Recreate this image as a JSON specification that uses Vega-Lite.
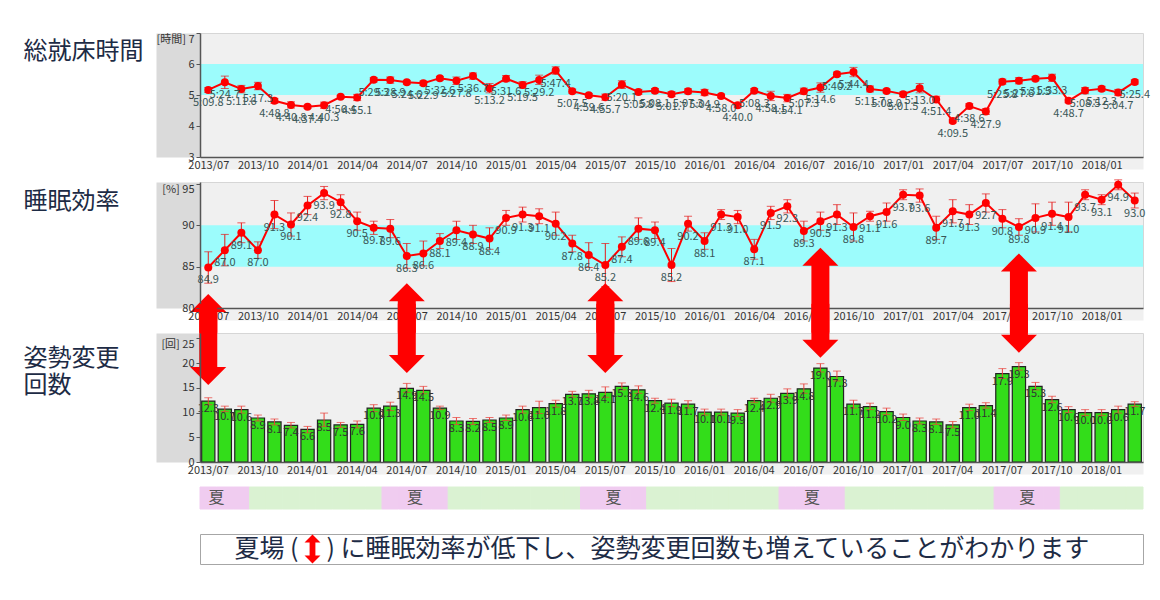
{
  "$schema": "https://vega.github.io/schema/vega-lite/v6.json",
  "background": "white",
  "padding": {"left": 22, "top": 32, "right": 4, "bottom": 4},
  "bounds": "flush",
  "spacing": 25,
  "config": {
    "font": "Noto Sans CJK JP",
    "view": {"stroke": null},
    "axis": {"labelFontSize": 11, "labelColor": "#333333", "grid": false}
  },
  "resolve": {"scale": {"x": "independent", "y": "independent", "color": "independent"}},
  "datasets": {
    "monthly": [
      {"month": "2013/07", "bed": 5.163, "bedLabel": "5:09.8", "bedLo": 5.08, "bedHi": 5.24, "eff": 84.9, "effLo": 83.0, "effHi": 86.8, "cnt": 12.3, "cntLo": 11.6, "cntHi": 13.0, "season": "summer"},
      {"month": "2013/08", "bed": 5.412, "bedLabel": "5:24.7", "bedLo": 5.21, "bedHi": 5.61, "eff": 87.0, "effLo": 85.1, "effHi": 88.9, "cnt": 10.7, "cntLo": 10.2, "cntHi": 11.3, "season": "summer"},
      {"month": "2013/09", "bed": 5.193, "bedLabel": "5:11.6", "bedLo": 5.07, "bedHi": 5.31, "eff": 89.1, "effLo": 87.9, "effHi": 90.3, "cnt": 10.6, "cntLo": 9.9, "cntHi": 11.3, "season": "summer"},
      {"month": "2013/10", "bed": 5.288, "bedLabel": "5:17.3", "bedLo": 5.17, "bedHi": 5.41, "eff": 87.0, "effLo": 86.0, "effHi": 88.0, "cnt": 8.9, "cntLo": 8.3, "cntHi": 9.5, "season": "other"},
      {"month": "2013/11", "bed": 4.813, "bedLabel": "4:48.8", "bedLo": 4.73, "bedHi": 4.89, "eff": 91.3, "effLo": 89.6, "effHi": 93.0, "cnt": 8.1, "cntLo": 7.5, "cntHi": 8.7, "season": "other"},
      {"month": "2013/12", "bed": 4.68, "bedLabel": "4:40.8", "bedLo": 4.58, "bedHi": 4.78, "eff": 90.1, "effLo": 88.7, "effHi": 91.5, "cnt": 7.4, "cntLo": 6.9, "cntHi": 8.0, "season": "other"},
      {"month": "2014/01", "bed": 4.623, "bedLabel": "4:37.4", "bedLo": 4.57, "bedHi": 4.67, "eff": 92.4, "effLo": 91.3, "effHi": 93.5, "cnt": 6.6, "cntLo": 5.9, "cntHi": 7.2, "season": "other"},
      {"month": "2014/02", "bed": 4.672, "bedLabel": "4:40.3", "bedLo": 4.57, "bedHi": 4.77, "eff": 93.9, "effLo": 93.1, "effHi": 94.7, "cnt": 8.5, "cntLo": 7.2, "cntHi": 9.9, "season": "other"},
      {"month": "2014/03", "bed": 4.94, "bedLabel": "4:56.4", "bedLo": 4.89, "bedHi": 4.99, "eff": 92.8, "effLo": 91.9, "effHi": 93.7, "cnt": 7.5, "cntLo": 7.0, "cntHi": 8.0, "season": "other"},
      {"month": "2014/04", "bed": 4.918, "bedLabel": "4:55.1", "bedLo": 4.82, "bedHi": 5.02, "eff": 90.5, "effLo": 89.4, "effHi": 91.6, "cnt": 7.6, "cntLo": 6.9, "cntHi": 8.3, "season": "other"},
      {"month": "2014/05", "bed": 5.488, "bedLabel": "5:29.3", "bedLo": 5.42, "bedHi": 5.56, "eff": 89.7, "effLo": 88.9, "effHi": 90.5, "cnt": 10.9, "cntLo": 10.2, "cntHi": 11.6, "season": "other"},
      {"month": "2014/06", "bed": 5.482, "bedLabel": "5:28.9", "bedLo": 5.38, "bedHi": 5.58, "eff": 89.6, "effLo": 88.5, "effHi": 90.7, "cnt": 11.3, "cntLo": 10.4, "cntHi": 12.1, "season": "summer"},
      {"month": "2014/07", "bed": 5.41, "bedLabel": "5:24.6", "bedLo": 5.35, "bedHi": 5.47, "eff": 86.3, "effLo": 84.8, "effHi": 87.8, "cnt": 14.9, "cntLo": 14.1, "cntHi": 15.9, "season": "summer"},
      {"month": "2014/08", "bed": 5.382, "bedLabel": "5:22.9", "bedLo": 5.31, "bedHi": 5.45, "eff": 86.6, "effLo": 85.1, "effHi": 88.1, "cnt": 14.5, "cntLo": 13.8, "cntHi": 15.3, "season": "summer"},
      {"month": "2014/09", "bed": 5.543, "bedLabel": "5:32.6", "bedLo": 5.48, "bedHi": 5.60, "eff": 88.1, "effLo": 87.2, "effHi": 89.0, "cnt": 10.9, "cntLo": 10.6, "cntHi": 11.3, "season": "summer"},
      {"month": "2014/10", "bed": 5.463, "bedLabel": "5:27.8", "bedLo": 5.34, "bedHi": 5.58, "eff": 89.4, "effLo": 88.3, "effHi": 90.5, "cnt": 8.3, "cntLo": 7.6, "cntHi": 9.0, "season": "other"},
      {"month": "2014/11", "bed": 5.612, "bedLabel": "5:36.7", "bedLo": 5.51, "bedHi": 5.71, "eff": 88.9, "effLo": 87.8, "effHi": 90.0, "cnt": 8.2, "cntLo": 7.6, "cntHi": 8.8, "season": "other"},
      {"month": "2014/12", "bed": 5.22, "bedLabel": "5:13.2", "bedLo": 5.07, "bedHi": 5.37, "eff": 88.4, "effLo": 87.1, "effHi": 89.7, "cnt": 8.5, "cntLo": 8.0, "cntHi": 9.0, "season": "other"},
      {"month": "2015/01", "bed": 5.527, "bedLabel": "5:31.6", "bedLo": 5.43, "bedHi": 5.63, "eff": 90.9, "effLo": 90.0, "effHi": 91.8, "cnt": 8.9, "cntLo": 8.4, "cntHi": 9.5, "season": "other"},
      {"month": "2015/02", "bed": 5.325, "bedLabel": "5:19.5", "bedLo": 5.22, "bedHi": 5.43, "eff": 91.3, "effLo": 90.4, "effHi": 92.2, "cnt": 10.6, "cntLo": 9.9, "cntHi": 11.3, "season": "other"},
      {"month": "2015/03", "bed": 5.487, "bedLabel": "5:29.2", "bedLo": 5.34, "bedHi": 5.64, "eff": 91.1, "effLo": 90.2, "effHi": 92.0, "cnt": 11.0, "cntLo": 9.8, "cntHi": 12.3, "season": "other"},
      {"month": "2015/04", "bed": 5.79, "bedLabel": "5:47.4", "bedLo": 5.67, "bedHi": 5.91, "eff": 90.2, "effLo": 88.8, "effHi": 91.6, "cnt": 11.8, "cntLo": 11.1, "cntHi": 12.5, "season": "other"},
      {"month": "2015/05", "bed": 5.125, "bedLabel": "5:07.5", "bedLo": 5.06, "bedHi": 5.19, "eff": 87.8, "effLo": 86.8, "effHi": 88.8, "cnt": 13.7, "cntLo": 13.1, "cntHi": 14.3, "season": "other"},
      {"month": "2015/06", "bed": 4.993, "bedLabel": "4:59.6", "bedLo": 4.93, "bedHi": 5.05, "eff": 86.4, "effLo": 84.9, "effHi": 87.9, "cnt": 13.8, "cntLo": 13.1, "cntHi": 14.5, "season": "summer"},
      {"month": "2015/07", "bed": 4.928, "bedLabel": "4:55.7", "bedLo": 4.83, "bedHi": 5.03, "eff": 85.2, "effLo": 82.6, "effHi": 87.8, "cnt": 14.1, "cntLo": 13.1, "cntHi": 15.2, "season": "summer"},
      {"month": "2015/08", "bed": 5.335, "bedLabel": "5:20.1", "bedLo": 5.21, "bedHi": 5.46, "eff": 87.4, "effLo": 86.2, "effHi": 88.6, "cnt": 15.3, "cntLo": 14.6, "cntHi": 16.0, "season": "summer"},
      {"month": "2015/09", "bed": 5.097, "bedLabel": "5:05.8", "bedLo": 5.02, "bedHi": 5.18, "eff": 89.6, "effLo": 88.3, "effHi": 90.9, "cnt": 14.6, "cntLo": 13.9, "cntHi": 15.4, "season": "summer"},
      {"month": "2015/10", "bed": 5.135, "bedLabel": "5:08.1", "bedLo": 5.07, "bedHi": 5.21, "eff": 89.4, "effLo": 88.4, "effHi": 90.4, "cnt": 12.4, "cntLo": 11.9, "cntHi": 12.9, "season": "other"},
      {"month": "2015/11", "bed": 5.028, "bedLabel": "5:01.7", "bedLo": 4.95, "bedHi": 5.11, "eff": 85.2, "effLo": 83.2, "effHi": 87.2, "cnt": 11.9, "cntLo": 11.2, "cntHi": 12.7, "season": "other"},
      {"month": "2015/12", "bed": 5.122, "bedLabel": "5:07.3", "bedLo": 5.04, "bedHi": 5.20, "eff": 90.2, "effLo": 89.3, "effHi": 91.1, "cnt": 11.7, "cntLo": 10.9, "cntHi": 12.4, "season": "other"},
      {"month": "2016/01", "bed": 5.082, "bedLabel": "5:04.9", "bedLo": 4.98, "bedHi": 5.18, "eff": 88.1, "effLo": 87.1, "effHi": 89.1, "cnt": 10.1, "cntLo": 9.5, "cntHi": 10.7, "season": "other"},
      {"month": "2016/02", "bed": 4.967, "bedLabel": "4:58.0", "bedLo": 4.91, "bedHi": 5.03, "eff": 91.3, "effLo": 90.7, "effHi": 91.9, "cnt": 10.1, "cntLo": 9.5, "cntHi": 10.7, "season": "other"},
      {"month": "2016/03", "bed": 4.667, "bedLabel": "4:40.0", "bedLo": 4.59, "bedHi": 4.75, "eff": 91.0, "effLo": 90.2, "effHi": 91.8, "cnt": 9.9, "cntLo": 9.2, "cntHi": 10.6, "season": "other"},
      {"month": "2016/04", "bed": 5.138, "bedLabel": "5:08.3", "bedLo": 5.07, "bedHi": 5.21, "eff": 87.1, "effLo": 85.9, "effHi": 88.3, "cnt": 12.4, "cntLo": 12.0, "cntHi": 12.9, "season": "other"},
      {"month": "2016/05", "bed": 4.968, "bedLabel": "4:58.1", "bedLo": 4.82, "bedHi": 5.12, "eff": 91.5, "effLo": 90.7, "effHi": 92.3, "cnt": 12.9, "cntLo": 12.1, "cntHi": 13.7, "season": "other"},
      {"month": "2016/06", "bed": 4.902, "bedLabel": "4:54.1", "bedLo": 4.78, "bedHi": 5.02, "eff": 92.3, "effLo": 91.5, "effHi": 93.1, "cnt": 13.9, "cntLo": 13.0, "cntHi": 14.8, "season": "summer"},
      {"month": "2016/07", "bed": 5.122, "bedLabel": "5:07.3", "bedLo": 5.02, "bedHi": 5.22, "eff": 89.3, "effLo": 88.1, "effHi": 90.5, "cnt": 14.8, "cntLo": 13.9, "cntHi": 15.8, "season": "summer"},
      {"month": "2016/08", "bed": 5.243, "bedLabel": "5:14.6", "bedLo": 5.09, "bedHi": 5.39, "eff": 90.5, "effLo": 89.4, "effHi": 91.6, "cnt": 19.0, "cntLo": 18.2, "cntHi": 19.9, "season": "summer"},
      {"month": "2016/09", "bed": 5.67, "bedLabel": "5:40.2", "bedLo": 5.60, "bedHi": 5.74, "eff": 91.3, "effLo": 90.1, "effHi": 92.5, "cnt": 17.3, "cntLo": 16.4, "cntHi": 18.4, "season": "summer"},
      {"month": "2016/10", "bed": 5.74, "bedLabel": "5:44.4", "bedLo": 5.59, "bedHi": 5.89, "eff": 89.8, "effLo": 88.1, "effHi": 91.5, "cnt": 11.7, "cntLo": 10.9, "cntHi": 12.5, "season": "other"},
      {"month": "2016/11", "bed": 5.195, "bedLabel": "5:11.7", "bedLo": 5.10, "bedHi": 5.29, "eff": 91.1, "effLo": 90.5, "effHi": 91.7, "cnt": 11.2, "cntLo": 10.6, "cntHi": 11.9, "season": "other"},
      {"month": "2016/12", "bed": 5.133, "bedLabel": "5:08.0", "bedLo": 5.07, "bedHi": 5.19, "eff": 91.6, "effLo": 90.5, "effHi": 92.7, "cnt": 10.2, "cntLo": 9.6, "cntHi": 10.9, "season": "other"},
      {"month": "2017/01", "bed": 5.025, "bedLabel": "5:01.5", "bedLo": 4.95, "bedHi": 5.10, "eff": 93.7, "effLo": 93.1, "effHi": 94.3, "cnt": 9.0, "cntLo": 8.4, "cntHi": 9.7, "season": "other"},
      {"month": "2017/02", "bed": 5.217, "bedLabel": "5:13.0", "bedLo": 5.07, "bedHi": 5.37, "eff": 93.6, "effLo": 92.8, "effHi": 94.4, "cnt": 8.3, "cntLo": 7.7, "cntHi": 8.9, "season": "other"},
      {"month": "2017/03", "bed": 4.857, "bedLabel": "4:51.4", "bedLo": 4.76, "bedHi": 4.96, "eff": 89.7, "effLo": 88.3, "effHi": 91.1, "cnt": 8.1, "cntLo": 7.6, "cntHi": 8.7, "season": "other"},
      {"month": "2017/04", "bed": 4.158, "bedLabel": "4:09.5", "bedLo": 4.10, "bedHi": 4.22, "eff": 91.7, "effLo": 90.3, "effHi": 93.1, "cnt": 7.5, "cntLo": 6.9, "cntHi": 8.2, "season": "other"},
      {"month": "2017/05", "bed": 4.643, "bedLabel": "4:38.6", "bedLo": 4.56, "bedHi": 4.72, "eff": 91.3, "effLo": 90.1, "effHi": 92.5, "cnt": 11.0, "cntLo": 10.4, "cntHi": 11.7, "season": "other"},
      {"month": "2017/06", "bed": 4.465, "bedLabel": "4:27.9", "bedLo": 4.37, "bedHi": 4.56, "eff": 92.7, "effLo": 91.6, "effHi": 93.8, "cnt": 11.4, "cntLo": 10.9, "cntHi": 12.0, "season": "other"},
      {"month": "2017/07", "bed": 5.43, "bedLabel": "5:25.8", "bedLo": 5.35, "bedHi": 5.51, "eff": 90.8, "effLo": 89.7, "effHi": 91.9, "cnt": 17.9, "cntLo": 16.9, "cntHi": 18.9, "season": "summer"},
      {"month": "2017/08", "bed": 5.46, "bedLabel": "5:27.6", "bedLo": 5.36, "bedHi": 5.56, "eff": 89.8, "effLo": 88.8, "effHi": 90.8, "cnt": 19.3, "cntLo": 18.6, "cntHi": 20.1, "season": "summer"},
      {"month": "2017/09", "bed": 5.525, "bedLabel": "5:31.5", "bedLo": 5.46, "bedHi": 5.59, "eff": 90.9, "effLo": 89.2, "effHi": 92.6, "cnt": 15.3, "cntLo": 14.6, "cntHi": 16.1, "season": "summer"},
      {"month": "2017/10", "bed": 5.555, "bedLabel": "5:33.3", "bedLo": 5.44, "bedHi": 5.67, "eff": 91.4, "effLo": 90.0, "effHi": 92.8, "cnt": 12.6, "cntLo": 12.0, "cntHi": 13.3, "season": "summer"},
      {"month": "2017/11", "bed": 4.812, "bedLabel": "4:48.7", "bedLo": 4.75, "bedHi": 4.87, "eff": 91.0, "effLo": 89.2, "effHi": 92.8, "cnt": 10.6, "cntLo": 10.0, "cntHi": 11.2, "season": "other"},
      {"month": "2017/12", "bed": 5.142, "bedLabel": "5:08.5", "bedLo": 5.04, "bedHi": 5.24, "eff": 93.7, "effLo": 93.1, "effHi": 94.3, "cnt": 10.0, "cntLo": 9.4, "cntHi": 10.6, "season": "other"},
      {"month": "2018/01", "bed": 5.205, "bedLabel": "5:12.3", "bedLo": 5.13, "bedHi": 5.28, "eff": 93.1, "effLo": 92.5, "effHi": 93.7, "cnt": 10.0, "cntLo": 9.4, "cntHi": 10.6, "season": "other"},
      {"month": "2018/02", "bed": 5.078, "bedLabel": "5:04.7", "bedLo": 4.98, "bedHi": 5.18, "eff": 94.9, "effLo": 94.3, "effHi": 95.5, "cnt": 10.6, "cntLo": 9.9, "cntHi": 11.3, "season": "other"},
      {"month": "2018/03", "bed": 5.423, "bedLabel": "5:25.4", "bedLo": 5.35, "bedHi": 5.49, "eff": 93.0, "effLo": 92.1, "effHi": 93.9, "cnt": 11.7, "cntLo": 11.2, "cntHi": 12.2, "season": "other"}
    ],
    "arrows": [
      {"month": "2013/07", "effTip": 81.7, "effBase": 79.7, "cntTip": 15.6, "cntBase": 19.1},
      {"month": "2014/07", "effTip": 83.0, "effBase": 81.0, "cntTip": 18.0, "cntBase": 21.5},
      {"month": "2015/07", "effTip": 83.0, "effBase": 81.0, "cntTip": 18.0, "cntBase": 21.5},
      {"month": "2016/08", "effTip": 87.3, "effBase": 85.3, "cntTip": 21.1, "cntBase": 24.6},
      {"month": "2017/08", "effTip": 86.6, "effBase": 84.6, "cntTip": 22.1, "cntBase": 25.6}
    ],
    "summerLabels": [
      {"month": "2013/07", "label": "夏"},
      {"month": "2014/07", "label": "夏"},
      {"month": "2015/07", "label": "夏"},
      {"month": "2016/07", "label": "夏"},
      {"month": "2017/08", "label": "夏"}
    ]
  },
  "vconcat": [
    {
      "width": 943,
      "height": 124,
      "view": {"fill": "#f0f0f0", "stroke": "#d6d6d6"},
      "resolve": {"axis": {"x": "independent", "y": "independent"}},
      "layer": [
        {
          "data": {"values": [{"lo": 5, "hi": 6}]},
          "mark": {"type": "rect", "color": "#9cfcfc"},
          "encoding": {
            "y": {"field": "lo", "type": "quantitative", "scale": {"domain": [3, 7], "nice": false, "zero": false},
              "axis": {"orient": "left", "offset": 22, "domainWidth": 44, "domainColor": "#dadada", "labels": false, "ticks": false, "title": null, "zindex": 0}},
            "y2": {"field": "hi"}
          }
        },
        {
          "data": {"name": "monthly"},
          "mark": {"type": "errorbar", "color": "#e41a1a", "ticks": {"size": 8}},
          "encoding": {
            "x": {"field": "month", "type": "ordinal", "scale": {"type": "point", "padding": 0.5},
              "axis": {"orient": "bottom", "offset": 6, "domainWidth": 12, "domainColor": "#f0f0f0", "labels": false, "ticks": false, "title": null, "zindex": 0}},
            "y": {"field": "bedLo", "type": "quantitative", "scale": {"domain": [3, 7], "nice": false, "zero": false}, "axis": null},
            "y2": {"field": "bedHi"}
          }
        },
        {
          "data": {"name": "monthly"},
          "mark": {"type": "line", "color": "#ff0000", "strokeWidth": 2, "point": {"filled": true, "size": 64, "color": "#ff0000", "opacity": 1}},
          "encoding": {
            "x": {"field": "month", "type": "ordinal", "scale": {"type": "point", "padding": 0.5},
              "axis": {"orient": "bottom", "values": ["2013/07","2013/10","2014/01","2014/04","2014/07","2014/10","2015/01","2015/04","2015/07","2015/10","2016/01","2016/04","2016/07","2016/10","2017/01","2017/04","2017/07","2017/10","2018/01"],
                "labelAngle": 0, "ticks": false, "domainColor": "#555555", "domainWidth": 1.5, "labelPadding": 2, "title": null, "zindex": 1}},
            "y": {"field": "bed", "type": "quantitative", "scale": {"domain": [3, 7], "nice": false, "zero": false},
              "axis": {"orient": "left", "values": [3, 4, 5, 6, 7], "labelExpr": "datum.value == 7 ? '[時間] 7' : datum.label",
                "labelBaseline": {"condition": {"test": "datum.value == 7", "value": "top"}, "value": "middle"},
                "domainColor": "#555555", "domainWidth": 1.5, "tickColor": "#555555", "tickSize": 4,
                "title": "総就床時間", "titleAngle": 0, "titleAlign": "left", "titleBaseline": "top", "titleX": -177, "titleY": 6,
                "titleFontSize": 24, "titleFontWeight": "normal", "titleColor": "#1d2b45", "zindex": 1}}
          }
        },
        {
          "data": {"name": "monthly"},
          "mark": {"type": "text", "dy": 13, "fontSize": 11, "color": "#3a5757"},
          "encoding": {
            "x": {"field": "month", "type": "ordinal", "scale": {"type": "point", "padding": 0.5}, "axis": null},
            "y": {"field": "bed", "type": "quantitative", "scale": {"domain": [3, 7], "nice": false, "zero": false}, "axis": null},
            "text": {"field": "bedLabel"}
          }
        }
      ]
    },
    {
      "width": 943,
      "height": 126,
      "view": {"fill": "#f0f0f0", "stroke": "#d6d6d6"},
      "resolve": {"axis": {"x": "independent", "y": "independent"}},
      "layer": [
        {
          "data": {"values": [{"lo": 85, "hi": 90}]},
          "mark": {"type": "rect", "color": "#9cfcfc"},
          "encoding": {
            "y": {"field": "lo", "type": "quantitative", "scale": {"domain": [80, 95.24], "nice": false, "zero": false},
              "axis": {"orient": "left", "offset": 22, "domainWidth": 44, "domainColor": "#dadada", "labels": false, "ticks": false, "title": null, "zindex": 0}},
            "y2": {"field": "hi"}
          }
        },
        {
          "data": {"name": "monthly"},
          "mark": {"type": "errorbar", "color": "#e41a1a", "ticks": {"size": 8}},
          "encoding": {
            "x": {"field": "month", "type": "ordinal", "scale": {"type": "point", "padding": 0.5},
              "axis": {"orient": "bottom", "offset": 6, "domainWidth": 12, "domainColor": "#f0f0f0", "labels": false, "ticks": false, "title": null, "zindex": 0}},
            "y": {"field": "effLo", "type": "quantitative", "scale": {"domain": [80, 95.24], "nice": false, "zero": false}, "axis": null},
            "y2": {"field": "effHi"}
          }
        },
        {
          "data": {"name": "monthly"},
          "mark": {"type": "line", "color": "#ff0000", "strokeWidth": 2, "point": {"filled": true, "size": 64, "color": "#ff0000", "opacity": 1}},
          "encoding": {
            "x": {"field": "month", "type": "ordinal", "scale": {"type": "point", "padding": 0.5},
              "axis": {"orient": "bottom", "values": ["2013/07","2013/10","2014/01","2014/04","2014/07","2014/10","2015/01","2015/04","2015/07","2015/10","2016/01","2016/04","2016/07","2016/10","2017/01","2017/04","2017/07","2017/10","2018/01"],
                "labelAngle": 0, "ticks": false, "domainColor": "#555555", "domainWidth": 1.5, "labelPadding": 2, "title": null, "zindex": 1}},
            "y": {"field": "eff", "type": "quantitative", "scale": {"domain": [80, 95.24], "nice": false, "zero": false},
              "axis": {"orient": "left", "values": [80, 85, 90, 95], "labelExpr": "datum.value == 95 ? '[%] 95' : datum.label",
                "labelBaseline": {"condition": {"test": "datum.value == 95", "value": "top"}, "value": "middle"},
                "domainColor": "#555555", "domainWidth": 1.5, "tickColor": "#555555", "tickSize": 4,
                "title": "睡眠効率", "titleAngle": 0, "titleAlign": "left", "titleBaseline": "top", "titleX": -177, "titleY": 7,
                "titleFontSize": 24, "titleFontWeight": "normal", "titleColor": "#1d2b45", "zindex": 1}}
          }
        },
        {
          "data": {"name": "monthly"},
          "mark": {"type": "text", "dy": 13, "fontSize": 11, "color": "#3a5757"},
          "encoding": {
            "x": {"field": "month", "type": "ordinal", "scale": {"type": "point", "padding": 0.5}, "axis": null},
            "y": {"field": "eff", "type": "quantitative", "scale": {"domain": [80, 95.24], "nice": false, "zero": false}, "axis": null},
            "text": {"field": "eff", "format": ".1f"}
          }
        },
        {
          "data": {"name": "arrows"},
          "mark": {"type": "rule", "color": "#ff0000", "strokeWidth": 18, "strokeCap": "butt"},
          "encoding": {
            "x": {"field": "month", "type": "ordinal", "scale": {"type": "point", "padding": 0.5}, "axis": null},
            "y": {"field": "effBase", "type": "quantitative", "scale": {"domain": [80, 95.24], "nice": false, "zero": false}, "axis": null},
            "y2": {"datum": 77}
          }
        },
        {
          "data": {"name": "arrows"},
          "mark": {"type": "point", "shape": "M0,0 L-1,1 L1,1 Z", "size": 1296, "filled": true, "color": "#ff0000", "opacity": 1},
          "encoding": {
            "x": {"field": "month", "type": "ordinal", "scale": {"type": "point", "padding": 0.5}, "axis": null},
            "y": {"field": "effTip", "type": "quantitative", "scale": {"domain": [80, 95.24], "nice": false, "zero": false}, "axis": null}
          }
        }
      ]
    },
    {
      "width": 943,
      "height": 129,
      "view": {"fill": "#f0f0f0", "stroke": "#d6d6d6"},
      "resolve": {"axis": {"x": "independent", "y": "independent"}},
      "layer": [
        {
          "data": {"name": "monthly"},
          "mark": {"type": "bar", "color": "#33dd1a", "stroke": "#222222", "strokeWidth": 1.2},
          "encoding": {
            "x": {"field": "month", "type": "ordinal", "scale": {"type": "band", "paddingInner": 0.2, "paddingOuter": 0.1},
              "axis": {"orient": "bottom", "values": ["2013/07","2013/10","2014/01","2014/04","2014/07","2014/10","2015/01","2015/04","2015/07","2015/10","2016/01","2016/04","2016/07","2016/10","2017/01","2017/04","2017/07","2017/10","2018/01"],
                "labelAngle": 0, "ticks": false, "domainColor": "#555555", "domainWidth": 1.5, "labelPadding": 2, "title": null, "zindex": 1}},
            "y": {"field": "cnt", "type": "quantitative", "scale": {"domain": [0, 26.1], "nice": false, "zero": false},
              "axis": {"orient": "left", "values": [0, 5, 10, 15, 20, 25], "labelExpr": "datum.value == 25 ? '[回] 25' : datum.label",
                "labelBaseline": {"condition": {"test": "datum.value == 25", "value": "top"}, "value": "middle"},
                "domainColor": "#555555", "domainWidth": 1.5, "tickColor": "#555555", "tickSize": 4,
                "title": ["姿勢変更", "回数"], "titleAngle": 0, "titleAlign": "left", "titleBaseline": "top", "titleX": -177, "titleY": 13, "titleLineHeight": 27,
                "titleFontSize": 24, "titleFontWeight": "normal", "titleColor": "#1d2b45", "zindex": 1}}
          }
        },
        {
          "data": {"name": "monthly"},
          "mark": {"type": "errorbar", "color": "#e8403a", "ticks": {"size": 8}},
          "encoding": {
            "x": {"field": "month", "type": "ordinal", "scale": {"type": "band", "paddingInner": 0.2, "paddingOuter": 0.1},
              "axis": {"orient": "bottom", "offset": 6, "domainWidth": 12, "domainColor": "#f0f0f0", "labels": false, "ticks": false, "title": null, "zindex": 0}},
            "y": {"field": "cntLo", "type": "quantitative", "scale": {"domain": [0, 26.1], "nice": false, "zero": false},
              "axis": {"orient": "left", "offset": 22, "domainWidth": 44, "domainColor": "#dadada", "labels": false, "ticks": false, "title": null, "zindex": 0}},
            "y2": {"field": "cntHi"}
          }
        },
        {
          "data": {"name": "monthly"},
          "mark": {"type": "text", "dy": 8, "fontSize": 11, "color": "#333333"},
          "encoding": {
            "x": {"field": "month", "type": "ordinal", "scale": {"type": "band", "paddingInner": 0.2, "paddingOuter": 0.1}, "axis": null},
            "y": {"field": "cnt", "type": "quantitative", "scale": {"domain": [0, 26.1], "nice": false, "zero": false}, "axis": null},
            "text": {"field": "cnt", "format": ".1f"}
          }
        },
        {
          "data": {"name": "arrows"},
          "mark": {"type": "rule", "color": "#ff0000", "strokeWidth": 18, "strokeCap": "butt"},
          "encoding": {
            "x": {"field": "month", "type": "ordinal", "bandPosition": 0.5, "scale": {"type": "band", "paddingInner": 0.2, "paddingOuter": 0.1}, "axis": null},
            "y": {"field": "cntBase", "type": "quantitative", "scale": {"domain": [0, 26.1], "nice": false, "zero": false}, "axis": null},
            "y2": {"datum": 32}
          }
        },
        {
          "data": {"name": "arrows"},
          "mark": {"type": "point", "shape": "M0,0 L-1,-1 L1,-1 Z", "size": 1296, "filled": true, "color": "#ff0000", "opacity": 1},
          "encoding": {
            "x": {"field": "month", "type": "ordinal", "bandPosition": 0.5, "scale": {"type": "band", "paddingInner": 0.2, "paddingOuter": 0.1}, "axis": null},
            "y": {"field": "cntTip", "type": "quantitative", "scale": {"domain": [0, 26.1], "nice": false, "zero": false}, "axis": null}
          }
        }
      ]
    },
    {
      "width": 943,
      "height": 22,
      "view": {"stroke": null},
      "layer": [
        {
          "data": {"name": "monthly"},
          "mark": {"type": "rect", "strokeWidth": 1},
          "encoding": {
            "x": {"field": "month", "type": "ordinal", "scale": {"type": "band", "paddingInner": 0, "paddingOuter": 0}, "axis": null},
            "color": {"field": "season", "type": "nominal", "scale": {"domain": ["summer", "other"], "range": ["#f0ccf0", "#daf2d2"]}, "legend": null},
            "stroke": {"field": "season", "type": "nominal", "scale": {"domain": ["summer", "other"], "range": ["#f0ccf0", "#daf2d2"]}, "legend": null}
          }
        },
        {
          "data": {"name": "summerLabels"},
          "mark": {"type": "text", "fontSize": 16, "color": "#555555"},
          "encoding": {
            "x": {"field": "month", "type": "ordinal", "bandPosition": 1, "scale": {"type": "band", "paddingInner": 0, "paddingOuter": 0}, "axis": null},
            "text": {"field": "label"}
          }
        }
      ]
    },
    {
      "width": 943,
      "height": 30,
      "view": {"stroke": "#a6a6a6", "strokeWidth": 1, "fill": "white"},
      "data": {"values": [{"month": "2014/01", "before": "夏場 (", "after": ") に睡眠効率が低下し、姿勢変更回数も増えていることがわかります"}]},
      "encoding": {
        "x": {"field": "month", "type": "ordinal", "bandPosition": 0.8,
          "scale": {"type": "band", "paddingInner": 0, "paddingOuter": 0,
            "domain": ["2013/07","2013/08","2013/09","2013/10","2013/11","2013/12","2014/01","2014/02","2014/03","2014/04","2014/05","2014/06","2014/07","2014/08","2014/09","2014/10","2014/11","2014/12","2015/01","2015/02","2015/03","2015/04","2015/05","2015/06","2015/07","2015/08","2015/09","2015/10","2015/11","2015/12","2016/01","2016/02","2016/03","2016/04","2016/05","2016/06","2016/07","2016/08","2016/09","2016/10","2016/11","2016/12","2017/01","2017/02","2017/03","2017/04","2017/05","2017/06","2017/07","2017/08","2017/09","2017/10","2017/11","2017/12","2018/01","2018/02","2018/03"]},
          "axis": null}
      },
      "layer": [
        {"mark": {"type": "text", "align": "right", "dx": -14, "fontSize": 25, "color": "#1d2b45"}, "encoding": {"text": {"field": "before"}}},
        {"mark": {"type": "point", "shape": "M0,-1 L0.55,-0.45 L0.2,-0.45 L0.2,0.45 L0.55,0.45 L0,1 L-0.55,0.45 L-0.2,0.45 L-0.2,-0.45 L-0.55,-0.45 Z", "size": 841, "filled": true, "color": "#ff0000", "opacity": 1}},
        {"mark": {"type": "text", "align": "left", "dx": 14, "fontSize": 25, "color": "#1d2b45"}, "encoding": {"text": {"field": "after"}}}
      ]
    }
  ]
}
